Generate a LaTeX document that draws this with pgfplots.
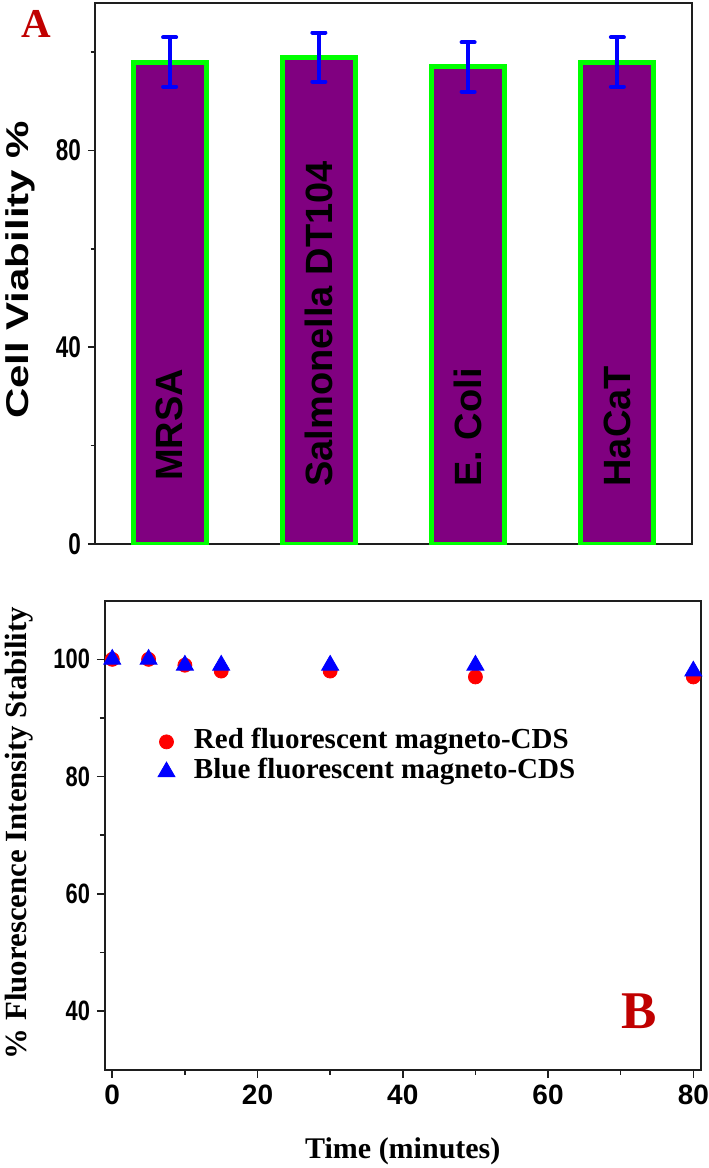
\documentclass[border=0pt]{standalone}
\usepackage{fontspec}
\setmainfont{Liberation Serif}
\newfontfamily\arial{Liberation Sans}
\newfontfamily\arialn[FakeStretch=0.75]{Liberation Sans}
\newfontfamily\arialnb[FakeStretch=0.78]{Liberation Sans}
\usepackage{graphicx}
\usepackage{pgfplots}
\pgfplotsset{compat=1.18}
\definecolor{vpurple}{RGB}{128,0,128}
\definecolor{vgreen}{RGB}{0,255,0}
\definecolor{lblred}{RGB}{192,0,0}
\definecolor{axgray}{RGB}{30,30,30}

\begin{document}
\begin{tikzpicture}
\path[use as bounding box] (0,0) rectangle (354pt,-584pt);
% ---------------- Panel A ----------------
\begin{axis}[
  at={(47.5pt,-272pt)}, anchor=south west,
  scale only axis, width=298.5pt, height=270.5pt,
  xmin=0.5, xmax=4.5, ymin=0, ymax=110,
  ybar, bar width=0.49,
  xtick=\empty, ytick={0,40,80}, minor ytick={20,60,100},
  tick pos=left, tick align=outside,
  major tick length=3.5pt, minor tick length=2.2pt,
  axis line style={line width=1pt, axgray},
  every tick/.style={axgray, line width=0.8pt},
  /pgf/number format/assume math mode=true,
  yticklabel style={font=\arialn\bfseries\fontsize{15}{15}\selectfont},
  ylabel={\scalebox{1}[0.75]{Cell Viability \%}},
  ylabel style={at={(axis description cs:-0.112,0.5065)}, anchor=base,
    font=\arial\bfseries\fontsize{21}{21}\selectfont},
]
\addplot[fill=vpurple, draw=vgreen, line width=2.5pt,
  error bars/.cd, y dir=both, y explicit,
  error bar style={blue, line width=2pt},
  error mark=-,
  error mark options={rotate=90, blue, line width=2pt, mark size=3.25pt, line cap=round}]
  coordinates {(1,98) +- (0,5) (2,99) +- (0,5) (3,97) +- (0,5) (4,98) +- (0,5)};
\node[rotate=90, anchor=west, inner sep=0pt, font=\arial\bfseries\fontsize{19}{19}\selectfont] at (axis cs:1,12.8) {MRSA};
\node[rotate=90, anchor=west, inner sep=0pt, font=\arial\bfseries\fontsize{19}{19}\selectfont] at (axis cs:2,11.6) {Salmonella DT104};
\node[rotate=90, anchor=west, inner sep=0pt, font=\arial\bfseries\fontsize{19}{19}\selectfont] at (axis cs:3,11.6) {E. Coli};
\node[rotate=90, anchor=west, inner sep=0pt, font=\arial\bfseries\fontsize{19}{19}\selectfont] at (axis cs:4,11.6) {HaCaT};
\end{axis}
\node[text=lblred, anchor=base, inner sep=0pt, font=\bfseries\fontsize{20.5}{20.5}\selectfont] at (18pt,-18.65pt) {A};
% ---------------- Panel B ----------------
\begin{axis}[
  at={(52.5pt,-534.85pt)}, anchor=south west,
  scale only axis, width=297.8pt, height=234.5pt,
  xmin=-1, xmax=81, ymin=30, ymax=110,
  xtick={0,20,40,60,80}, minor xtick={10,30,50,70},
  ytick={40,60,80,100}, minor ytick={50,70,90},
  tick pos=left, tick align=outside,
  major tick length=4pt, minor tick length=2.5pt,
  axis line style={line width=1pt, axgray},
  every tick/.style={axgray, line width=0.8pt},
  /pgf/number format/assume math mode=true,
  xticklabel style={font=\arial\bfseries\fontsize{14}{14}\selectfont},
  yticklabel style={font=\arialnb\bfseries\fontsize{14}{14}\selectfont},
  xlabel={Time (minutes)},
  xlabel style={at={(axis description cs:0.5,-0.19)}, anchor=base,
    font=\bfseries\fontsize{15}{15}\selectfont},
  ylabel={\% Fluorescence Intensity Stability},
  ylabel style={at={(axis description cs:-0.131,0.5047)}, anchor=base,
    font=\bfseries\fontsize{15.4}{15.4}\selectfont},
  legend style={at={(axis description cs:0.089,0.731)}, anchor=north west,
    draw=none, fill=none, inner sep=0pt, outer sep=0pt,
    column sep=8.5pt, row sep=0pt,
    font=\bfseries\fontsize{14.5}{14.5}\selectfont,
    nodes={inner sep=1pt, text height=10pt, text depth=3pt}},
  legend cell align=left,
  clip=false,
]
\addplot[only marks, mark=*, mark size=3.5pt, color=red]
  coordinates {(0,100) (5,100) (10,99) (15,98) (30,98) (50,97) (80,97)};
\addplot[only marks, mark=triangle*, mark size=4.9pt, color=blue]
  coordinates {(0,100) (5,100) (10,99) (15,99) (30,99) (50,99) (80,98)};
\legend{Red fluorescent magneto-CDS, Blue fluorescent magneto-CDS}
\end{axis}
\node[text=lblred, anchor=base, inner sep=0pt, font=\bfseries\fontsize{26.5}{26.5}\selectfont] at (319.5pt,-514.2pt) {B};
\end{tikzpicture}
\end{document}
